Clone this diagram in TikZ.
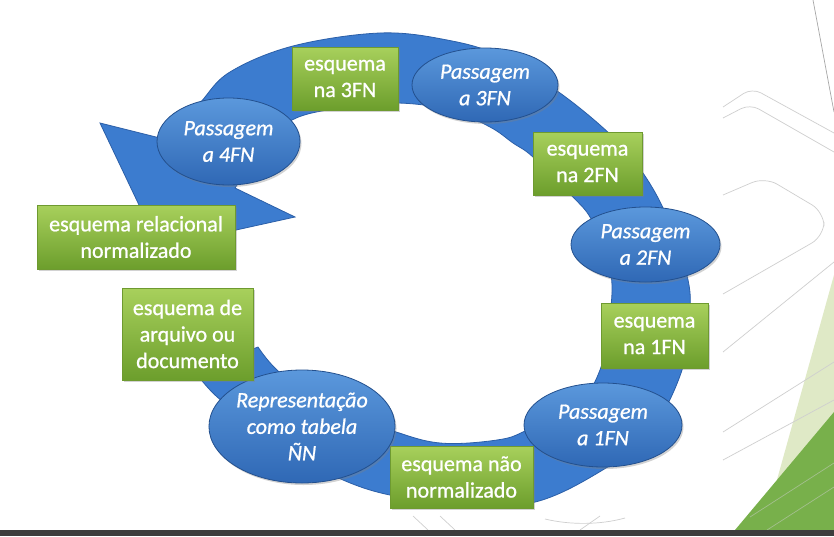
\documentclass[tikz,border=0pt]{standalone}
\usepackage{fontspec}
\setmainfont{Carlito}
\newfontfamily\boxfont{Carlito}[FakeBold=0.9]
\usetikzlibrary{shapes.geometric,shadows}
\definecolor{ringblue}{HTML}{3C7CCF}
\definecolor{ringedge}{HTML}{2B5FA8}
\definecolor{etop}{HTML}{5B98DC}
\definecolor{ebot}{HTML}{2F68B5}
\definecolor{eborder}{HTML}{23508E}
\definecolor{gtop}{HTML}{A8D05C}
\definecolor{gbot}{HTML}{6C9E2C}
\definecolor{gborder}{HTML}{6E9A30}
\definecolor{decogray}{HTML}{CFCFCF}
\definecolor{lightgreen}{HTML}{DFE9C6}
\definecolor{darkgreen}{HTML}{78B04B}
\definecolor{barcol}{HTML}{3D3D3D}
\tikzset{
  gbox/.style={rectangle, draw=gborder, line width=0.8pt, top color=gtop, bottom color=gbot,
    text=white, font=\boxfont\fontsize{22}{26.5}\selectfont, align=center, inner sep=0pt,
    drop shadow={opacity=0.35, shadow xshift=1.5pt, shadow yshift=-2pt}},
  bell/.style={ellipse, draw=eborder, line width=0.8pt, top color=etop, bottom color=ebot,
    text=white, font=\boxfont\fontsize{22}{26.5}\selectfont\itshape, align=center, inner sep=0pt,
    drop shadow={opacity=0.35, shadow xshift=1.5pt, shadow yshift=-2pt}},
  ringshape/.style={fill=ringblue, draw=ringedge, line width=0.8pt},
  deco/.style={draw=decogray, line width=0.7pt},
}
\begin{document}
\begin{tikzpicture}[x=1pt,y=-1pt]
\useasboundingbox (0,0) rectangle (834,536);
\fill[white] (0,0) rectangle (834,536);
% slide decorations
\fill[lightgreen] (763,530) -- (834,275) -- (834,530) -- cycle;
\fill[darkgreen] (735,530) -- (834,412) -- (834,530) -- cycle;
\draw[draw=gray!70, line width=0.7pt] (813,0) -- (834,112);
\draw[deco, rounded corners=10pt] (723,107) -- (752,88) -- (834,133);
\draw[deco, rounded corners=10pt] (723,118) -- (750,104) -- (834,152);
\draw[deco, rounded corners=14pt] (723,195) -- (765,177) -- (824,212) -- (824,236) -- (723,294);
\draw[deco] (723,352) -- (834,262);
\draw[deco] (723,432) -- (834,362);
\draw[deco] (723,460) -- (834,400);
\draw[deco, draw opacity=0.5] (750,517) -- (834,463);
\draw[deco, draw opacity=0.5] (767,530) -- (834,487);
\draw[deco] (413,516) -- (428,530);
\draw[deco] (440,516) -- (455,530);
\draw[deco] (580,530) -- (600,516);
\draw[deco] (545,519) .. controls (570,525) and (600,525) .. (625,518);
% circular arrow
\path[ringshape]
  plot[smooth, tension=0.6] coordinates {(195,372) (215,395) (247,420) (300,458) (370,490)
    (450,503) (531,503) (601,471) (650,432) (681,373) (689,320) (688,280) (667,217)
    (643,173) (613,137) (560,93) (500,56) (447,40) (380,33) (293,46) (230,72) (200,103) (168,140)}
  -- (100,123) -- (159,247) -- (295,217) -- (235,188)
  -- plot[smooth, tension=0.6] coordinates {(235,188) (262,150) (292,120) (340,108) (397,103)
    (450,110) (490,127) (513,143) (533,157) (573,197) (590,217) (605,250) (612,285)
    (608,330) (600,370) (580,400) (527,430) (497,440) (440,443) (390,430) (320,405)
    (277,370) (258,347)}
  -- cycle;
% nodes
\node[bell, minimum width=143pt, minimum height=87pt] (e4) at (228.5,141.5) {Passagem\\a 4FN};
\node[gbox, minimum width=106pt, minimum height=63pt] (b3) at (345,78.5) {esquema\\na 3FN};
\node[bell, minimum width=146pt, minimum height=74pt] (e3) at (485,85) {Passagem\\a 3FN};
\node[gbox, minimum width=109pt, minimum height=63pt] (b2) at (587.5,163.5) {esquema\\na 2FN};
\node[bell, minimum width=149pt, minimum height=75pt] (e2) at (645.5,244.5) {Passagem\\a 2FN};
\node[gbox, minimum width=107pt, minimum height=65pt] (b1) at (654.5,335.5) {esquema\\na 1FN};
\node[bell, minimum width=158pt, minimum height=84pt] (e1) at (603,425) {Passagem\\a 1FN};
\node[gbox, minimum width=143pt, minimum height=62pt] (b0) at (461.5,477) {esquema não\\normalizado};
\node[bell, minimum width=170pt, minimum height=113pt] (erep) at (302,426.5) {Representação\\como tabela\\ÑN};
\node[gbox, minimum width=131pt, minimum height=92pt] (barq) at (187.5,334) {esquema de\\arquivo ou\\documento};
\node[gbox, minimum width=198pt, minimum height=64pt] (brel) at (136,237) {esquema relacional\\normalizado};
% bottom bar
\fill[barcol] (0,530) rectangle (834,536);
\end{tikzpicture}
\end{document}
